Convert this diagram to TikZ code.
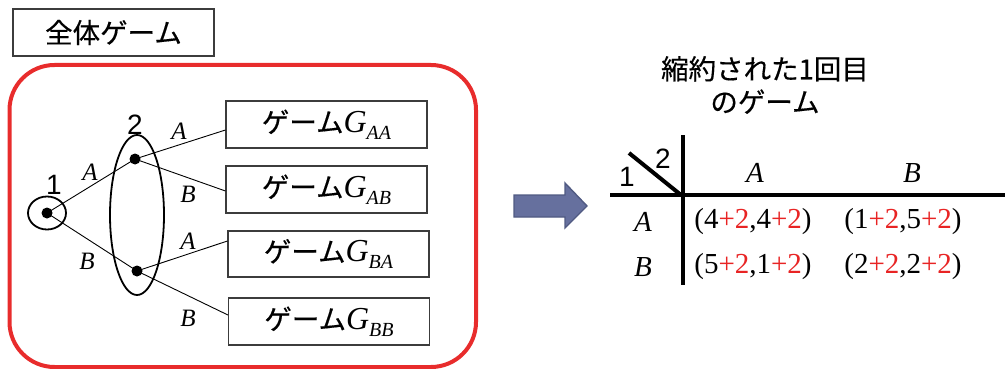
\documentclass[tikz,border=0pt]{standalone}
\usepackage{fontspec}
\setmainfont{Liberation Serif}
\newfontfamily\jp[FakeBold=0.4]{Noto Sans CJK JP}
\newfontfamily\arialish{Liberation Sans}
\usetikzlibrary{shapes.geometric}
\definecolor{frame}{RGB}{232,44,44}
\definecolor{plus}{RGB}{232,36,36}
\definecolor{arrowfill}{RGB}{102,112,158}
\definecolor{arrowedge}{RGB}{80,90,130}
\definecolor{boxedge}{RGB}{60,60,60}
\tikzset{
  jptext/.style={font=\jp\fontsize{27.5}{33}\selectfont},
  numlabel/.style={font=\arialish\fontsize{28}{28}\selectfont, inner sep=0},
  actlabel/.style={font=\fontsize{25}{25}\selectfont\itshape, inner sep=0},
  cell/.style={font=\fontsize{29}{29}\selectfont, inner sep=0},
  hdr/.style={font=\fontsize{29}{29}\selectfont\itshape, inner sep=0},
  gbox/.style={draw=boxedge, line width=1.1pt, minimum width=201pt, minimum height=47pt, inner sep=0},
  dot/.style={circle, fill=black, minimum size=11pt, inner sep=0},
  branch/.style={line width=0.9pt},
  rule/.style={line width=4pt},
}
\newcommand{\gname}[1]{{\jp\fontsize{27.5}{33}\selectfont ゲーム}{\fontsize{32}{32}\selectfont\itshape G\raisebox{-7pt}{\fontsize{20}{20}\selectfont #1}}}
\newcommand{\pl}[1]{\textcolor{plus}{+#1}}
\begin{document}
\begin{tikzpicture}[x=1pt,y=-1pt]
\useasboundingbox (0,0) rectangle (1005,369);

% title of the whole game
\node[draw=boxedge, line width=1.1pt, minimum width=201pt, minimum height=47pt, inner sep=0, jptext] (title) at (113.5,32.5) {全体ゲーム};

% red frame around the game tree
\draw[frame, line width=4pt, rounded corners=45pt] (9.5,65) rectangle (476,367);

% decision nodes
\node[ellipse, draw, line width=1.8pt, minimum width=38pt, minimum height=33pt, inner sep=0] (info1) at (47,213) {};
\node[dot] (d1) at (47,213) {};
\node[ellipse, draw, line width=1.8pt, minimum width=54pt, minimum height=160pt, inner sep=0] (info2) at (137,215) {};
\node[dot] (d2a) at (135,159) {};
\node[dot] (d2b) at (137,271) {};
\node[numlabel] (p1) at (54,185) {1};
\node[numlabel] (p2) at (135,125) {2};

% subgames
\node[gbox] (gaa) at (326.5,124.5) {\gname{AA}};
\node[gbox] (gab) at (326.5,189.5) {\gname{AB}};
\node[gbox, minimum height=46pt] (gba) at (328.5,254) {\gname{BA}};
\node[gbox] (gbb) at (329,321.5) {\gname{BB}};

% branches
\draw[branch] (d1.center) -- (d2a.center);
\draw[branch] (d1.center) -- (d2b.center);
\draw[branch] (d2a.center) -- ([yshift=-5.5pt]gaa.west);
\draw[branch] (d2a.center) -- ([yshift=-1.5pt]gab.west);
\draw[branch] (d2b.center) -- ([yshift=13pt]gba.west);
\draw[branch] (d2b.center) -- ([yshift=6.5pt]gbb.west);

% action labels
\node[actlabel] (la1) at (90,172) {A};
\node[actlabel] (lb1) at (87,261) {B};
\node[actlabel] (la2) at (179,131) {A};
\node[actlabel] (lb2) at (188,194) {B};
\node[actlabel] (la3) at (188,241) {A};
\node[actlabel] (lb3) at (188,318) {B};

% block arrow
\draw[fill=arrowfill, draw=arrowedge, line width=1.4pt, line join=miter]
  (514,195) -- (565,195) -- (565,183) -- (587,206) -- (565,228) -- (565,217) -- (514,217) -- cycle;

% reduced first-stage game
\node[jptext, align=center] (rtitle) at (765,85) {縮約された1回目\\のゲーム};

\coordinate (hl) at (610,195);
\coordinate (hr) at (1005,195);
\coordinate (vt) at (683,135);
\coordinate (vb) at (683,285);
\coordinate (ds) at (629,153);
\coordinate (de) at (681,195);
\draw[rule] (hl) -- (hr);
\draw[rule] (vt) -- (vb);
\draw[rule] (ds) -- (de);

\node[numlabel] (t1) at (627,177) {1};
\node[numlabel] (t2) at (663,159) {2};

\node[hdr] (ca) at (755,173) {A};
\node[hdr] (cb) at (912,173) {B};
\node[hdr] (ra) at (643,222) {A};
\node[hdr] (rb) at (643,267) {B};

\node[cell] (aa) at (753,222) {(4\pl{2},4\pl{2})};
\node[cell] (ab) at (903,222) {(1\pl{2},5\pl{2})};
\node[cell] (ba) at (753,267) {(5\pl{2},1\pl{2})};
\node[cell] (bb) at (903,267) {(2\pl{2},2\pl{2})};
\end{tikzpicture}
\end{document}
